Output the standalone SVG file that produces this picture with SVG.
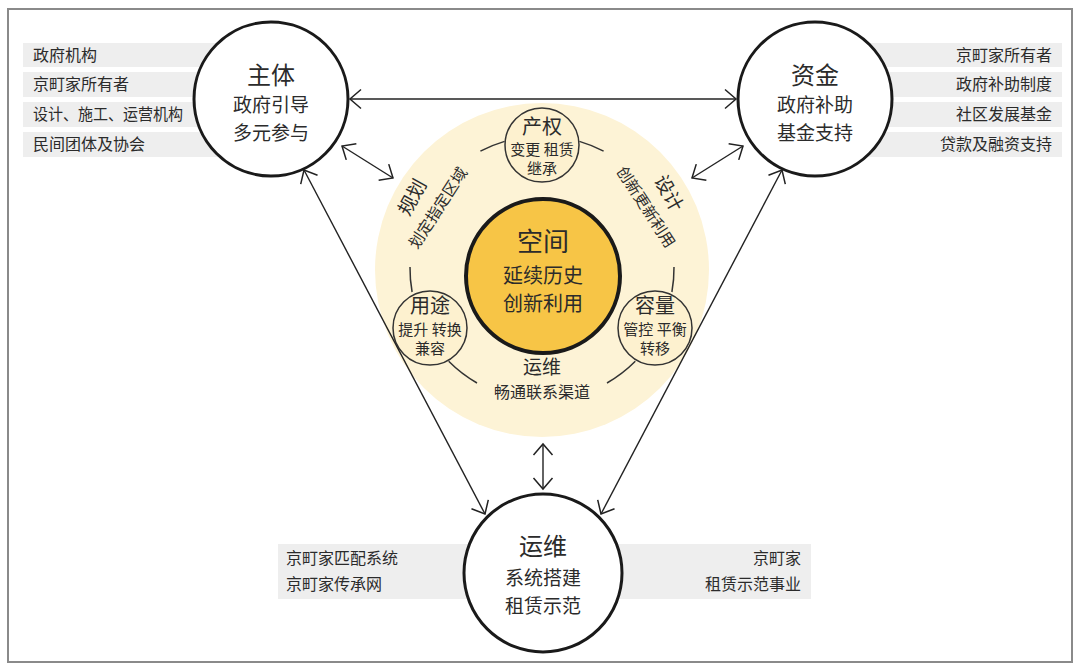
<svg xmlns="http://www.w3.org/2000/svg" width="1080" height="671" viewBox="0 0 1080 671">
<defs>
<style>
text{font-family:"Noto Sans CJK SC","Noto Sans",sans-serif;fill:#2b2b2b}
.lbl{font-size:16px}
.box{fill:#eeeeee}
.big{fill:#fff;stroke:#1a1a1a;stroke-width:3}
.small{fill:#fdf1cf;stroke:#333;stroke-width:1.5}
.ring{fill:none;stroke:#333;stroke-width:1.5}
.con{fill:none;stroke:#222;stroke-width:1.4;marker-start:url(#ah);marker-end:url(#ah)}
.t1{font-size:24px;text-anchor:middle}
.t2{font-size:19px;text-anchor:middle}
.m{text-anchor:middle}
</style>
<marker id="ah" viewBox="-14 -12 16 24" refX="0" refY="0" markerWidth="16" markerHeight="24" markerUnits="userSpaceOnUse" orient="auto-start-reverse">
<path d="M-11,-9.5 L0,0 L-11,9.5" fill="none" stroke="#222" stroke-width="1.5"/>
</marker>
</defs>
<rect x="8" y="9" width="1064" height="653" fill="#fff" stroke="#8a8a8a" stroke-width="2"/>

<g id="labels-left">
<rect class="box" x="23" y="43" width="210" height="24"/>
<rect class="box" x="23" y="72" width="210" height="25"/>
<rect class="box" x="23" y="102" width="210" height="25"/>
<rect class="box" x="23" y="132" width="210" height="25"/>
<text class="lbl" x="33" y="61">政府机构</text>
<text class="lbl" x="33" y="90">京町家所有者</text>
<text class="lbl" x="33" y="120" textLength="150" lengthAdjust="spacingAndGlyphs">设计、施工、运营机构</text>
<text class="lbl" x="33" y="150">民间团体及协会</text>
</g>
<g id="labels-right">
<rect class="box" x="830" y="43" width="232" height="24"/>
<rect class="box" x="830" y="72" width="232" height="25"/>
<rect class="box" x="830" y="102" width="232" height="25"/>
<rect class="box" x="830" y="132" width="232" height="25"/>
<text class="lbl" x="1052" y="61" text-anchor="end">京町家所有者</text>
<text class="lbl" x="1052" y="90" text-anchor="end">政府补助制度</text>
<text class="lbl" x="1052" y="120" text-anchor="end">社区发展基金</text>
<text class="lbl" x="1052" y="150" text-anchor="end">贷款及融资支持</text>
</g>
<g id="labels-bottom">
<rect class="box" x="278" y="544" width="200" height="55"/>
<rect class="box" x="608" y="544" width="203" height="55"/>
<text class="lbl" x="286" y="564">京町家匹配系统</text>
<text class="lbl" x="286" y="590">京町家传承网</text>
<text class="lbl" x="801" y="564" text-anchor="end">京町家</text>
<text class="lbl" x="801" y="590" text-anchor="end">租赁示范事业</text>
</g>

<g id="space-zone">
<circle cx="542" cy="270" r="167" fill="#fdf3d6"/>
<g class="ring">
<path d="M480.4,151.2 A132,132 0 0 1 504.6,141.4"/>
<path d="M579.4,141.4 A132,132 0 0 1 603.6,151.2"/>
<path d="M410,267 A132,132 0 0 0 412.1,292"/>
<path d="M674,267 A132,132 0 0 1 671.9,292"/>
<path d="M448.7,361.3 A132,132 0 0 0 477.0,383.0"/>
<path d="M607.0,383.0 A132,132 0 0 0 635.3,361.3"/>
</g>
<g id="guihua">
<text transform="translate(412,197) rotate(-61)" class="m" font-size="19" dy="7">规划</text>
<text transform="translate(438,208) rotate(-57)" class="m" font-size="15.5" dy="5.5">划定指定区域</text>
</g>
<g id="sheji">
<text transform="translate(669,193) rotate(61)" class="m" font-size="19" dy="7">设计</text>
<text transform="translate(646,207) rotate(57)" class="m" font-size="15.5" dy="5.5">创新更新利用</text>
</g>
<g id="yunwei-inner">
<text class="m" x="542" y="374" font-size="19">运维</text>
<text class="m" x="542" y="398" font-size="16">畅通联系渠道</text>
</g>
</g>

<g id="node-space">
<circle cx="543" cy="276" r="77" fill="#f7c546" stroke="#1a1a1a" stroke-width="4"/>
<text class="m" x="543" y="251" font-size="26">空间</text>
<text class="m" x="543" y="283" font-size="20">延续历史</text>
<text class="m" x="543" y="311" font-size="20">创新利用</text>
</g>
<g id="node-chanquan">
<circle class="small" cx="542" cy="145" r="37"/>
<text class="m" x="542" y="134" font-size="20">产权</text>
<text class="m" x="542" y="155" font-size="15">变更 租赁</text>
<text class="m" x="542" y="174" font-size="15">继承</text>
</g>
<g id="node-yongtu">
<circle class="small" cx="430" cy="328" r="37"/>
<text class="m" x="430" y="313" font-size="20">用途</text>
<text class="m" x="430" y="335" font-size="15">提升 转换</text>
<text class="m" x="430" y="354" font-size="15">兼容</text>
</g>
<g id="node-rongliang">
<circle class="small" cx="655" cy="328" r="37"/>
<text class="m" x="655" y="313" font-size="20">容量</text>
<text class="m" x="655" y="335" font-size="15">管控 平衡</text>
<text class="m" x="655" y="354" font-size="15">转移</text>
</g>

<g id="connectors">
<line class="con" x1="350" y1="99" x2="736" y2="99"/>
<line class="con" x1="342" y1="146" x2="393" y2="178"/>
<line class="con" x1="743" y1="146" x2="692" y2="178"/>
<line class="con" x1="304" y1="170" x2="485" y2="514"/>
<line class="con" x1="782" y1="170" x2="601" y2="514"/>
<line class="con" x1="543" y1="444" x2="543" y2="489"/>
</g>

<g id="node-zhuti">
<circle class="big" cx="271" cy="99" r="77"/>
<text class="t1" x="271" y="84">主体</text>
<text class="t2" x="271" y="112">政府引导</text>
<text class="t2" x="271" y="140">多元参与</text>
</g>
<g id="node-zijin">
<circle class="big" cx="815" cy="99" r="77"/>
<text class="t1" x="815" y="84">资金</text>
<text class="t2" x="815" y="112">政府补助</text>
<text class="t2" x="815" y="140">基金支持</text>
</g>
<g id="node-yunwei">
<circle class="big" cx="543" cy="573" r="79"/>
<text class="t1" x="543" y="555">运维</text>
<text class="t2" x="543" y="585">系统搭建</text>
<text class="t2" x="543" y="613">租赁示范</text>
</g>
</svg>
